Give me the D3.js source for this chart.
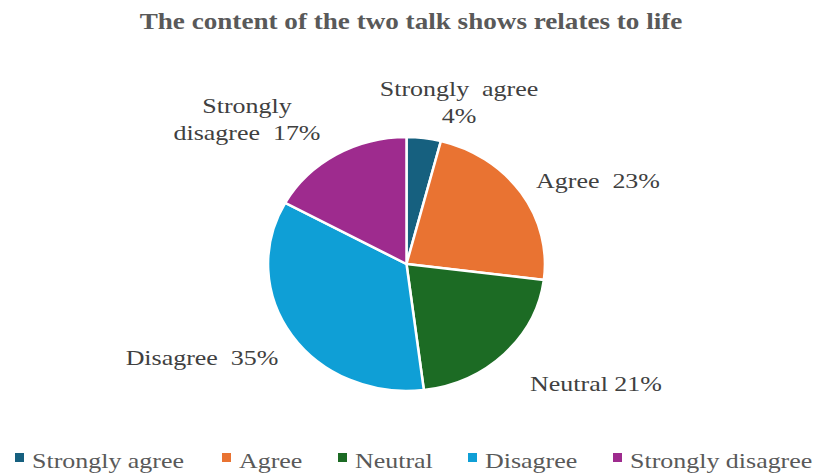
<!DOCTYPE html>
<html>
<head>
<meta charset="utf-8">
<script src="https://cdn.jsdelivr.net/npm/d3@7"></script>
<style>
  html, body { margin: 0; padding: 0; background: #fff; }
  svg { display: block; }
</style>
</head>
<body>
<svg id="chart" width="816" height="475"></svg>
<script>
// Survey responses
const categories = ["Strongly agree", "Agree", "Neutral", "Disagree", "Strongly disagree"];
const percents = [4, 23, 21, 35, 17];
const colors = ["#16607f", "#e97332", "#1c6b24", "#0f9fd6", "#9e2b8e"];
const titleText = "The content of the two talk shows relates to life";

// Data label lines and their anchor points (in chart pixels)
const labelLines = [
  ["Strongly  agree", "4%"],
  ["Agree  23%"],
  ["Neutral 21%"],
  ["Disagree  35%"],
  ["Strongly", "disagree  17%"]
];
const labelPos = [[459, 96], [598, 188], [596, 391], [202, 365], [247, 113]];

const FONT = "'Liberation Serif', 'Times New Roman', Times, serif";
const stretch = 1.18;   // wide-set serif lettering

const svg = d3.select("#chart");
const cx = 406.5, cy = 264, r = 127, sx = 1.09;

// draws text horizontally widened about its anchor
function wideText(parent, x, y) {
  return parent.append("text").attr("transform", `translate(${x},${y}) scale(${stretch},1)`);
}

wideText(svg, 411, 29)
  .attr("text-anchor", "middle")
  .attr("font-family", FONT)
  .attr("font-weight", "bold")
  .attr("font-size", 23)
  .attr("fill", "#595959")
  .text(titleText);

const pie = d3.pie().sort(null).value(d => d)(percents);
const arc = d3.arc().innerRadius(0).outerRadius(r);

const g = svg.append("g").attr("transform", `translate(${cx},${cy}) scale(${sx},1)`);
g.selectAll("path").data(pie).join("path")
  .attr("d", arc)
  .attr("fill", (d, i) => colors[i])
  .attr("stroke", "#fff")
  .attr("stroke-width", 2.5)
  .attr("vector-effect", "non-scaling-stroke");

const labels = svg.append("g")
  .attr("font-family", FONT)
  .attr("font-size", 22)
  .attr("fill", "#404040")
  .attr("text-anchor", "middle");
labelLines.forEach((lines, i) => {
  const t = wideText(labels, labelPos[i][0], labelPos[i][1]);
  lines.forEach((ln, j) => {
    t.append("tspan").attr("x", 0).attr("dy", j === 0 ? 0 : 27)
      .style("white-space", "pre").text(ln);
  });
});

// Legend
const legendX = [15, 222, 338, 468, 613];
const legend = svg.append("g")
  .attr("font-family", FONT)
  .attr("font-size", 22)
  .attr("fill", "#595959");
categories.forEach((c, i) => {
  legend.append("rect").attr("x", legendX[i]).attr("y", 453).attr("width", 9).attr("height", 9).attr("fill", colors[i]);
  wideText(legend, legendX[i] + 17, 468).text(c);
});
</script>
</body>
</html>
